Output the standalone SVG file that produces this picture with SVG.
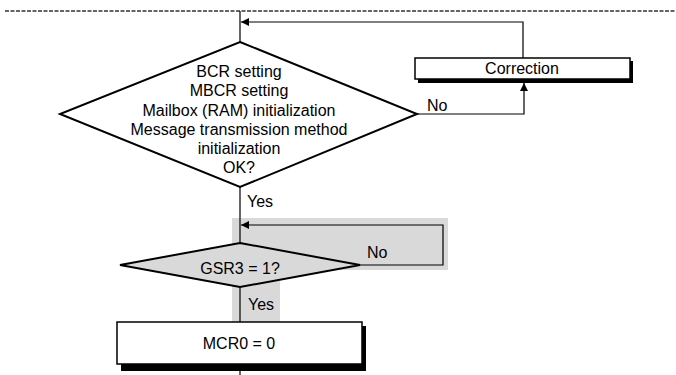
<svg xmlns="http://www.w3.org/2000/svg" width="676" height="375" viewBox="0 0 676 375">
<defs>
<style>
text{font-family:"Liberation Sans",Arial,sans-serif;font-size:16px;fill:#000}
.c{text-anchor:middle}
.ln{fill:none;stroke:#000;stroke-width:1.2}
.shape{stroke:#000;stroke-width:2}
.bg{fill:#d9d9d9}
</style>
<marker id="ah" viewBox="0 0 10 10" refX="10" refY="5" markerWidth="10" markerHeight="8" markerUnits="userSpaceOnUse" orient="auto">
<path d="M0,0 L10,5 L0,10 Z" fill="#000"/>
</marker>
</defs>
<rect width="676" height="375" fill="#fff"/>
<line x1="5" y1="11" x2="676" y2="11" stroke="#333" stroke-width="1.3" stroke-dasharray="4,1.5"/>
<g id="loop-bg">
<path class="bg" d="M232,218 H448 V270 H280 V322 H232 Z"/>
</g>
<g id="connectors">
<line class="ln" x1="240" y1="11" x2="240" y2="42"/>
<polyline class="ln" points="523,58 523,22 241,22" marker-end="url(#ah)"/>
<polyline class="ln" points="417,114 524,114 524,83" marker-end="url(#ah)"/>
<line class="ln" x1="240" y1="187" x2="240" y2="243"/>
<polyline class="ln" points="360,265 443,265 443,225 241,225" marker-end="url(#ah)"/>
<line class="ln" x1="240" y1="287" x2="240" y2="322"/>
<line class="ln" x1="240" y1="367" x2="240" y2="375"/>
<text x="247" y="207">Yes</text>
<text x="427" y="111">No</text>
<text x="367" y="258">No</text>
<text x="248" y="310">Yes</text>
</g>
<g id="check-init">
<polygon class="shape" fill="#fff" points="240,42 417,114 240,187 60,114"/>
<text class="c" x="239" y="77">BCR setting</text>
<text class="c" x="239" y="96">MBCR setting</text>
<text class="c" x="239" y="115.5">Mailbox (RAM) initialization</text>
<text class="c" x="239" y="134.5">Message transmission method</text>
<text class="c" x="239" y="154">initialization</text>
<text class="c" x="239" y="173">OK?</text>
</g>
<g id="correction">
<rect x="418" y="61" width="215" height="22" fill="#000"/>
<rect x="415" y="58" width="215" height="21" fill="#fff" stroke="#000" stroke-width="1.5"/>
<text class="c" x="522" y="74">Correction</text>
</g>
<g id="gsr3">
<polygon class="shape bg" points="240,243 360,265 240,287 120,265"/>
<text class="c" x="240" y="274">GSR3 = 1?</text>
</g>
<g id="mcr0">
<rect x="121" y="326" width="245" height="45" fill="#000"/>
<rect x="117" y="322" width="245" height="42" fill="#fff" stroke="#000" stroke-width="1.5"/>
<text class="c" x="239" y="349">MCR0 = 0</text>
</g>
</svg>
